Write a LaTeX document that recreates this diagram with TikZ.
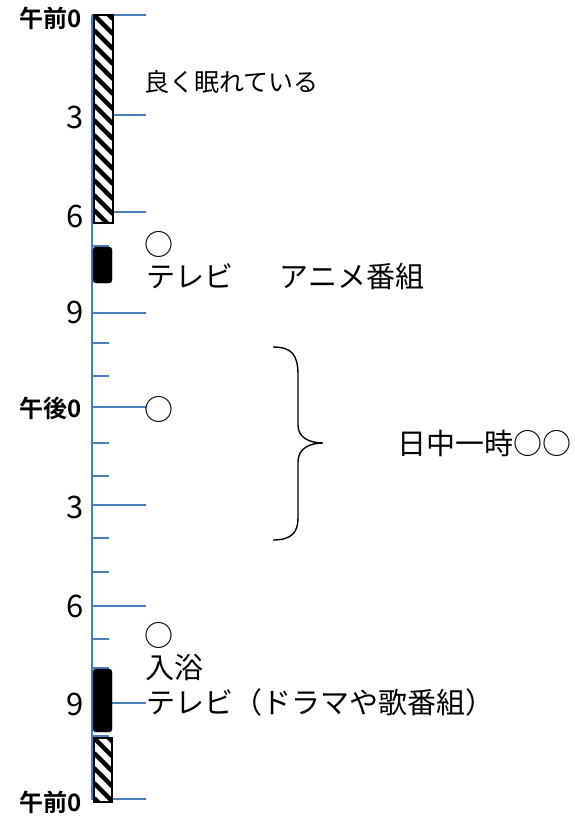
\documentclass[tikz,border=0pt]{standalone}
\usepackage{fontspec}
\setmainfont{Noto Sans CJK JP}[BoldFont={Noto Sans CJK JP Bold}]
\definecolor{axisblue}{RGB}{74,126,187}
\tikzset{
  axisline/.style={draw=axisblue, line width=2pt},
  majortick/.style={draw=axisblue, line width=1.6pt},
  minortick/.style={draw=axisblue, line width=1.6pt},
  hourlbl/.style={anchor=east, inner sep=0pt, font=\fontsize{31}{33}\selectfont},
  ampmlbl/.style={anchor=east, inner sep=0pt, font=\fontsize{24}{26}\selectfont\bfseries},
  note/.style={anchor=west, inner sep=0pt, font=\fontsize{29}{33}\selectfont, align=left},
  blackbar/.style={fill=black, draw=black, rounded corners=3pt},
}
\begin{document}
\begin{tikzpicture}[x=1pt, y=-1pt]
\useasboundingbox (0,0) rectangle (575,816);
% axis
\coordinate (top) at (92,15);
\coordinate (bot) at (92,800);
\draw[axisline] (top) -- (bot);
% major ticks
\foreach \yy in {15,115,212,313,407,505,606,703,799}{
  \draw[majortick] (92,\yy) -- (146,\yy);
}
% minor ticks
\foreach \yy in {48,81,147,179,246,279,343,376,443,476,538,572,639,668,736,768}{
  \draw[minortick] (92,\yy) -- (109,\yy);
}
% hatched bars
\begin{scope}
  \clip (94,15) rectangle (113,223);
  \fill[white] (94,15) rectangle (113,223);
  \foreach \k in {-2,...,15}{
    \draw[line width=4.5pt] (94,{15+\k*15}) -- ++(19,19);
  }
\end{scope}
\draw[line width=1.2pt] (94,15) rectangle (113,223);
\begin{scope}
  \clip (94,738) rectangle (112,802);
  \fill[white] (94,738) rectangle (112,802);
  \foreach \k in {-2,...,5}{
    \draw[line width=4.5pt] (94,{738+\k*15}) -- ++(19,19);
  }
\end{scope}
\draw[line width=1.2pt] (94,738) rectangle (112,802);
% black bars
\path[blackbar] (93,247) rectangle (112,283);
\path[blackbar] (93,669) rectangle (112,732);
% hour labels
\node[ampmlbl] (h0) at (82,18) {午前0};
\node[hourlbl] (h3) at (84,117) {3};
\node[hourlbl] (h6) at (84,216) {6};
\node[hourlbl] (h9) at (84,312) {9};
\node[ampmlbl] (h12) at (82,408) {午後0};
\node[hourlbl] (h15) at (84,507) {3};
\node[hourlbl] (h18) at (84,606) {6};
\node[hourlbl] (h21) at (84,704) {9};
\node[ampmlbl] (h24) at (82,802) {午前0};
% notes
\node[note, font=\fontsize{25}{28}\selectfont] (sleep) at (144,82) {良く眠れている};
\node[note] (m7) at (144,244) {○};
\node[note] (tv1) at (146,277) {テレビ\hspace{1.6em}アニメ番組};
\node[note] (m12) at (144,409) {○};
\node[note] (m19) at (144,635) {○};
\node[note] (bath) at (145,667) {入浴};
\node[note] (tv2) at (146,702) {テレビ（ドラマや歌番組）};
\node[note] (day) at (397,443) {日中一時○○};
% brace
\draw[line width=1.4pt] (273,347) .. controls (292,347) and (298,355) .. (298,375)
  -- (298,425) .. controls (298,438) and (310,443) .. (323,443)
  .. controls (310,443) and (298,448) .. (298,462)
  -- (298,518) .. controls (298,532) and (292,540) .. (273,540);
\end{tikzpicture}
\end{document}
